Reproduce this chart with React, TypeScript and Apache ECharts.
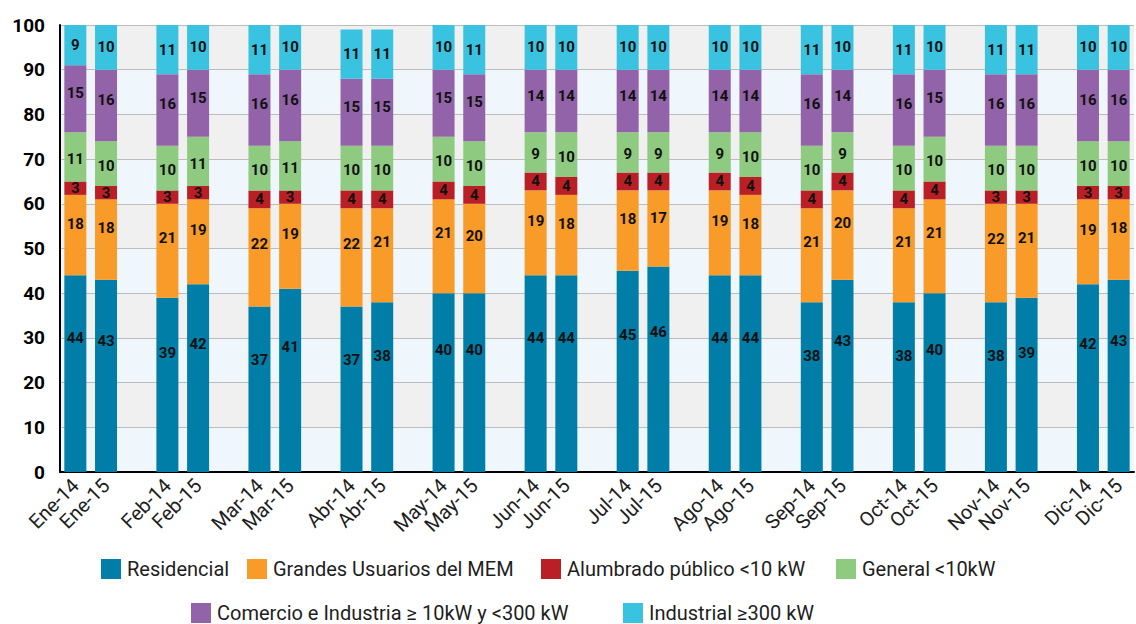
import React, { useEffect, useRef } from "react";
import * as echarts from "echarts";

// Months and years shown on the category axis
const months = ["Ene", "Feb", "Mar", "Abr", "May", "Jun", "Jul", "Ago", "Sep", "Oct", "Nov", "Dic"];
const years = ["14", "15"];

// Share (%) of each customer class, one value per month/year pair
const residencial = [44, 43, 39, 42, 37, 41, 37, 38, 40, 40, 44, 44, 45, 46, 44, 44, 38, 43, 38, 40, 38, 39, 42, 43];
const grandesUsuarios = [18, 18, 21, 19, 22, 19, 22, 21, 21, 20, 19, 18, 18, 17, 19, 18, 21, 20, 21, 21, 22, 21, 19, 18];
const alumbrado = [3, 3, 3, 3, 4, 3, 4, 4, 4, 4, 4, 4, 4, 4, 4, 4, 4, 4, 4, 4, 3, 3, 3, 3];
const general = [11, 10, 10, 11, 10, 11, 10, 10, 10, 10, 9, 10, 9, 9, 9, 10, 10, 9, 10, 10, 10, 10, 10, 10];
const comercio = [15, 16, 16, 15, 16, 16, 15, 15, 15, 15, 14, 14, 14, 14, 14, 14, 16, 14, 16, 15, 16, 16, 16, 16];
const industrial = [9, 10, 11, 10, 11, 10, 11, 11, 10, 11, 10, 10, 10, 10, 10, 10, 11, 10, 11, 10, 11, 11, 10, 10];

const seriesNames = [
  "Residencial",
  "Grandes Usuarios del MEM",
  "Alumbrado público <10 kW",
  "General <10kW",
  "Comercio e Industria ≥ 10kW y <300 kW",
  "Industrial ≥300 kW",
];
const seriesValues = [residencial, grandesUsuarios, alumbrado, general, comercio, industrial];
const colors = ["#007ea7", "#f99b28", "#ba1f25", "#8ecb81", "#9263a8", "#3ac3e1"];
// vertical placement of the value label inside each segment (from the segment top)
const labelY = ["32%", "36%", "50%", "55%", "42%", "50%"];

// legend icon positions, one legend per item
const legendPos: [number, number][] = [
  [101, 559],
  [247, 559],
  [541, 559],
  [836, 559],
  [191, 603],
  [623, 603],
];

const FONT = "Roboto, 'DejaVu Sans', sans-serif";

export default function App() {
  const ref = useRef<HTMLDivElement>(null);

  useEffect(() => {
    if (!ref.current) return;
    const chart = echarts.init(ref.current, undefined, { renderer: "svg" });

    // category axis: pairs of bars per month with an empty slot between months
    const categories: string[] = [];
    const slotIndex: number[] = [];
    months.forEach((m, i) => {
      years.forEach((y) => {
        slotIndex.push(categories.length);
        categories.push(`${m}-${y}`);
      });
      if (i < months.length - 1) categories.push("");
    });

    const expand = (vals: number[]) => {
      const out: (number | null)[] = categories.map(() => null);
      vals.forEach((v, k) => {
        out[slotIndex[k]] = v;
      });
      return out;
    };

    const series = seriesNames.map((name, s) => ({
      name,
      type: "bar",
      stack: "total",
      barWidth: 22,
      itemStyle: { color: colors[s] },
      label: {
        show: true,
        position: ["50%", labelY[s]],
        align: "center",
        verticalAlign: "middle",
        color: "#111",
        fontWeight: "bold",
        fontSize: 15,
        fontFamily: FONT,
        formatter: (p: any) => `${p.value}`,
      },
      data: expand(seriesValues[s]),
    }));

    const legends = seriesNames.map((name, s) => ({
      data: [name],
      left: legendPos[s][0],
      top: legendPos[s][1],
      padding: 0,
      icon: "rect",
      itemWidth: 20,
      itemHeight: 20,
      selectedMode: false,
      textStyle: { fontFamily: FONT, fontSize: 20, color: "#1e1e1e", padding: [0, 0, 0, 1] },
    }));

    chart.setOption({
      animation: false,
      color: colors,
      grid: { left: 60, right: 2, top: 25, bottom: 152 },
      legend: legends,
      xAxis: {
        type: "category",
        data: categories,
        axisLine: { lineStyle: { color: "#000", width: 2 } },
        axisTick: { show: false },
        axisLabel: {
          interval: 0,
          rotate: 45,
          margin: 10,
          color: "#1e1e1e",
          fontSize: 20,
          fontFamily: FONT,
        },
      },
      yAxis: {
        type: "value",
        min: 0,
        max: 100,
        interval: 10,
        axisLine: { show: true, lineStyle: { color: "#000", width: 2 } },
        axisTick: { show: false },
        axisLabel: {
          color: "#000",
          fontWeight: "bold",
          fontSize: 19,
          fontFamily: FONT,
          margin: 15,
        },
        splitLine: { show: true, lineStyle: { color: "#bcbcbc", width: 1 } },
        splitArea: { show: true, areaStyle: { color: ["#eff7fd", "#f0f0f0"] } },
      },
      series,
    });

    return () => chart.dispose();
  }, []);

  return <div ref={ref} style={{ width: 1136, height: 624, position: "absolute", left: 0, top: 0 }} />;
}
